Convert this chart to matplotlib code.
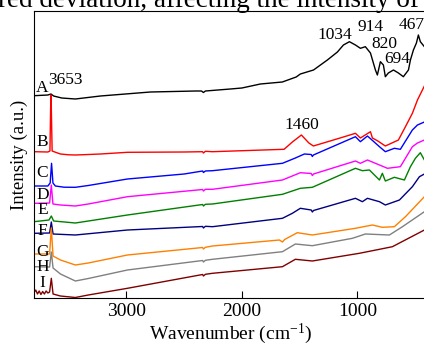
import matplotlib
matplotlib.use("Agg")
import matplotlib.pyplot as plt

plt.rcParams["font.family"] = ["Liberation Serif", "DejaVu Serif"]
plt.rcParams["mathtext.default"] = "regular"

# spectra (wavenumber in cm^-1, intensity in a.u.)
wn_A = [3800, 3680, 3653, 3630, 3560, 3442, 3225, 2792, 2400, 2350, 2333, 2316, 2100, 2000, 1840,
        1650, 1530, 1494, 1380, 1260, 1173, 1121, 1069, 1017, 974, 931, 887, 844, 827, 801, 775,
        758, 732, 688, 645, 602, 558, 541, 515, 489, 472, 455, 420, 400]
int_A = [202.3, 203, 204, 202, 200, 199, 202, 206, 207, 207, 205.5, 207, 209, 210, 214,
         216, 221, 224, 228, 238, 246, 253, 256.3, 253, 249.7, 251.3, 245, 228, 223, 236.3, 233,
         221.3, 225, 228, 225, 221.3, 228, 238, 248, 255, 263, 256.3, 251.3, 249]

wn_B = [3800, 3680, 3662, 3656, 3653, 3650, 3643, 3620, 3571, 3500, 3442, 3350, 3225, 2991, 2500,
        2340, 2333, 2316, 2255, 1635, 1563, 1485, 1420, 1381, 1130, 1017, 974, 887, 870, 827, 758,
        645, 584, 524, 480, 420, 400]
int_B = [146.3, 146, 147, 190, 203, 190, 147, 146, 144, 143.2, 143, 143.4, 144, 145.7, 146,
         146.3, 145, 146.7, 146.3, 148.7, 156, 163, 155, 152, 160.7, 164.7, 160, 166.3, 160, 157.3, 152,
         158, 171.3, 184.7, 198, 212, 216]

wn_C = [3800, 3680, 3660, 3648, 3636, 3615, 3540, 3442, 3330, 2991, 2500, 2340, 2333, 2316, 2255,
        1649, 1537, 1459, 1400, 1390, 1381, 1017, 974, 913, 809, 758, 680, 628, 524, 480, 420, 400]
int_C = [112, 112, 115, 134.7, 115, 112, 110.8, 110.7, 112.5, 119, 124, 127, 125.5, 127, 127.3,
         134.7, 140, 144, 143.5, 141.5, 143, 161.3, 156.3, 162, 151.3, 146.3, 149.7, 148.7, 168, 173, 176, 177]

wn_D = [3800, 3665, 3650, 3636, 3571, 3442, 3330, 2991, 2340, 2333, 2316, 2255, 1649, 1494, 1400,
        1390, 1380, 1017, 974, 913, 740, 628, 524, 480, 420, 400]
int_D = [94.7, 95, 113, 94, 93, 92, 94, 101.3, 108.5, 107, 108.7, 108.7, 118, 125.3, 124.5,
         122.5, 124, 137, 134.7, 138, 129.7, 131.3, 151.3, 155, 158, 159]

wn_E = [3800, 3670, 3650, 3630, 3442, 2991, 2340, 2333, 2316, 2255, 1649, 1494, 1390, 1017, 957,
        896, 809, 784, 758, 680, 593, 541, 498, 455, 420, 400]
int_E = [76.3, 78, 82, 77, 75, 83, 93.5, 92, 93.7, 94, 103.7, 109.7, 110.7, 129.7, 127.3,
         128, 118, 124.7, 117, 120.7, 118, 131.3, 139.7, 145.3, 138, 137]

wn_F = [3800, 3665, 3650, 3635, 3442, 2991, 2340, 2333, 2316, 2255, 1649, 1563, 1494, 1400, 1390,
        1380, 1017, 957, 913, 809, 758, 636, 524, 463, 420, 400]
int_F = [64.7, 65, 76, 64, 63, 68, 71.5, 70, 71.7, 71.3, 79.7, 84.7, 89.7, 88, 86,
         87.5, 99.7, 96.3, 99.7, 96.3, 93, 98, 111.3, 121.3, 124, 125]

wn_G = [3800, 3665, 3650, 3635, 3571, 3442, 3330, 2991, 2340, 2333, 2316, 2255, 1675, 1649, 1630,
        1520, 1390, 1017, 870, 784, 680, 584, 420, 400]
int_G = [44, 44, 70, 42, 38, 33, 35, 43, 50.5, 49, 50.7, 52, 58, 56, 58.5,
         65.3, 63, 69.7, 73, 70.7, 71.3, 81.3, 101.3, 104]

wn_H = [3800, 3665, 3650, 3635, 3571, 3442, 3330, 2991, 2340, 2333, 2316, 2255, 1649, 1537, 1390,
        1043, 983, 931, 723, 610, 420, 400]
int_H = [31.3, 31, 46, 30, 24, 17, 19.5, 28, 37.5, 36, 37.7, 38.7, 46.3, 54, 52.3,
         59.7, 62, 64, 63, 71.3, 86.3, 88]

wn_I = [3800, 3785, 3770, 3755, 3740, 3725, 3710, 3695, 3680, 3665, 3650, 3635, 3571, 3442, 3330,
        2991, 2340, 2333, 2316, 2255, 1649, 1537, 1390, 983, 809, 697, 420, 400]
int_I = [5.3, 8, 4, 7, 3.5, 6.5, 4, 7, 5, 6, 19.7, 4, 2, 0.5, 3,
         9.7, 23.5, 22, 23.7, 24.7, 31.3, 38.7, 37, 44.7, 48.7, 51.3, 68, 70]

series = [
    ("A", wn_A, int_A, "black"),
    ("B", wn_B, int_B, "#ff0000"),
    ("C", wn_C, int_C, "#0000ff"),
    ("D", wn_D, int_D, "#ff00ff"),
    ("E", wn_E, int_E, "#008000"),
    ("F", wn_F, int_F, "#000080"),
    ("G", wn_G, int_G, "#ff8000"),
    ("H", wn_H, int_H, "#808080"),
    ("I", wn_I, int_I, "#800000"),
]
letter_y = [210, 156, 124.7, 103, 88, 67.3, 46.3, 31.3, 14.7]

peak_labels = ["3653", "1460", "1034", "914", "820", "694", "467"]
peak_pos = [(3528, 218), (1485, 173), (1199, 263), (887, 271), (766, 254), (654, 239), (533, 273)]

fig = plt.figure(figsize=(4.24, 3.46), dpi=100)
ax = fig.add_axes([34 / 424, 1 - 298 / 346, 392.7 / 424, 287 / 346])

for (name, wn, inten, color), ly in zip(series, letter_y):
    ax.plot(wn, inten, color=color, lw=1.0)
    ax.text(3727, ly, name, fontsize=12.5, ha="center", va="center")

for lab, (px, py) in zip(peak_labels, peak_pos):
    ax.text(px, py, lab, fontsize=12.5, ha="center", va="center")

ax.set_xlim(3800, 400)
ax.set_ylim(0, 287)
ax.set_xticks([3000, 2000, 1000])
ax.set_yticks([])
ax.tick_params(axis="x", direction="in", length=5, labelsize=14, pad=3.5)
ax.set_xlabel("Wavenumber (cm$^{-1}$)", fontsize=14, labelpad=1)
ax.set_ylabel("Intensity (a.u.)", fontsize=13.5, labelpad=4)
ax.spines["right"].set_visible(False)

# caption text of the page, cut off at the top edge as in the source
fig.text(-0.004, 1 - 7 / 346, "red deviation, affecting the intensity of", fontsize=19.5,
         va="baseline", ha="left")

fig.savefig("out.png", dpi=100)
